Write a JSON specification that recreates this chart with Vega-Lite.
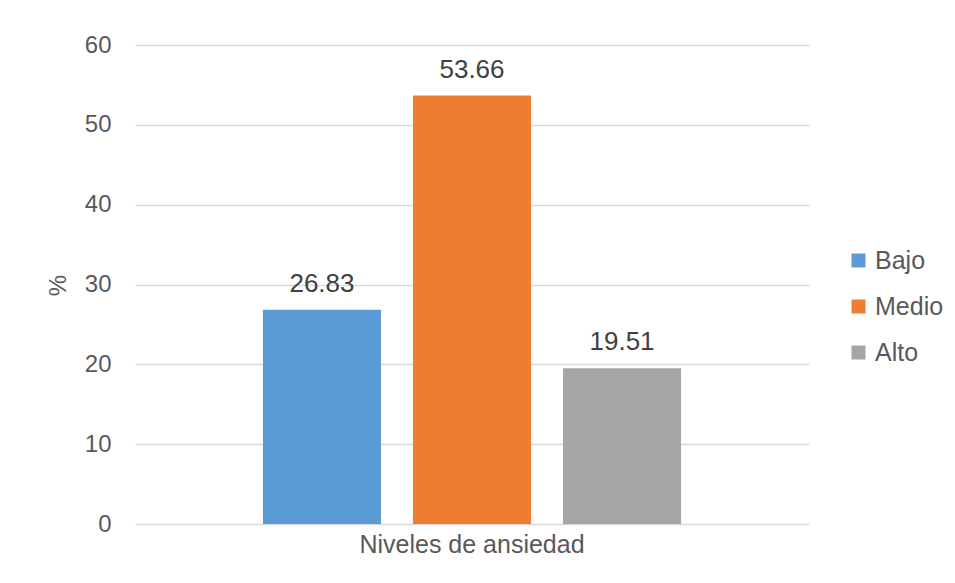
{
  "$schema": "https://vega.github.io/schema/vega-lite/v6.json",
  "autosize": "none",
  "width": 674,
  "height": 479,
  "padding": {"left": 135, "top": 45, "right": 146, "bottom": 59},
  "background": "white",
  "config": {
    "view": {"stroke": null},
    "font": "Liberation Sans"
  },
  "data": {
    "values": [
      {"nivel": "Niveles de ansiedad", "serie": "Bajo", "valor": 26.83},
      {"nivel": "Niveles de ansiedad", "serie": "Medio", "valor": 53.66},
      {"nivel": "Niveles de ansiedad", "serie": "Alto", "valor": 19.51}
    ]
  },
  "encoding": {
    "x": {
      "field": "nivel",
      "type": "nominal",
      "scale": {"paddingInner": 0, "paddingOuter": 0.306},
      "axis": {
        "title": null,
        "labelAngle": 0,
        "labelFontSize": 25,
        "labelColor": "#595959",
        "labelPadding": 8,
        "labelLimit": 0,
        "ticks": false,
        "domain": false,
        "grid": false
      }
    },
    "xOffset": {
      "field": "serie",
      "type": "nominal",
      "sort": ["Bajo", "Medio", "Alto"],
      "scale": {"paddingInner": 0.2133, "paddingOuter": 0}
    },
    "y": {
      "field": "valor",
      "type": "quantitative",
      "scale": {"domain": [0, 60]},
      "axis": {
        "title": "%",
        "titleFontSize": 24,
        "titleFontWeight": "normal",
        "titleColor": "#595959",
        "titleAngle": -90,
        "titleX": -77,
        "titleY": 240,
        "titleAlign": "center",
        "titleBaseline": "middle",
        "values": [0, 10, 20, 30, 40, 50, 60],
        "labelFontSize": 24,
        "labelColor": "#595959",
        "labelPadding": 24,
        "ticks": false,
        "domain": false,
        "grid": true,
        "gridColor": "#d9d9d9",
        "gridWidth": 1.3
      }
    }
  },
  "layer": [
    {
      "mark": {"type": "bar"},
      "encoding": {
        "color": {
          "field": "serie",
          "type": "nominal",
          "sort": ["Bajo", "Medio", "Alto"],
          "scale": {"domain": ["Bajo", "Medio", "Alto"], "range": ["#5B9BD5", "#ED7D31", "#A5A5A5"]},
          "legend": {
            "title": null,
            "orient": "none",
            "legendX": 711,
            "legendY": 203,
            "symbolType": "square",
            "symbolSize": 196,
            "symbolStrokeWidth": 0,
            "labelFontSize": 25,
            "labelColor": "#595959",
            "labelOffset": 4,
            "rowPadding": 20,
            "padding": 0
          }
        }
      }
    },
    {
      "mark": {"type": "text", "fontSize": 26, "color": "#404040", "dy": -18, "baseline": "alphabetic"},
      "encoding": {
        "text": {"field": "valor", "type": "quantitative", "format": ".2f"}
      }
    }
  ]
}
